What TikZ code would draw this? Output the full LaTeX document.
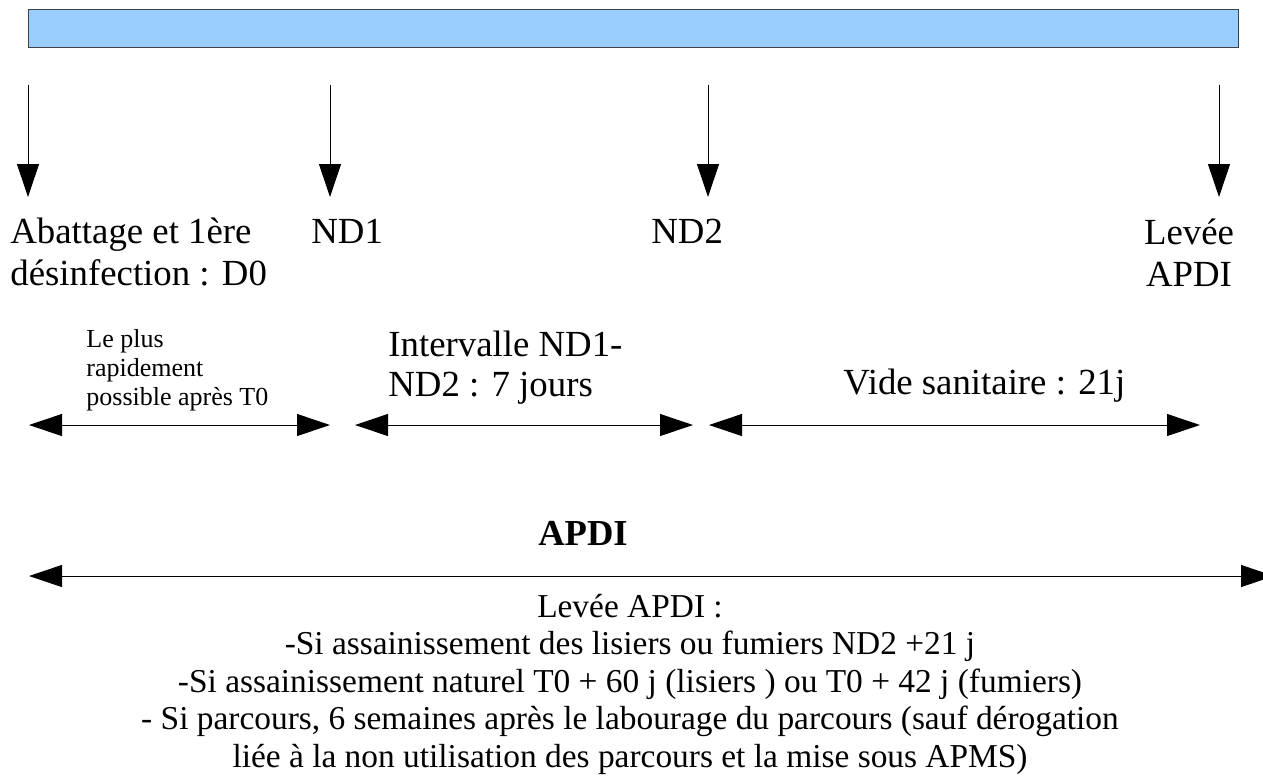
\documentclass[tikz,border=0pt]{standalone}
\usepackage{fontspec}
\setmainfont{Liberation Serif}
\usetikzlibrary{arrows.meta}

\definecolor{barblue}{HTML}{99CCFF}

\begin{document}
\begin{tikzpicture}[x=0.5pt,y=-0.5pt]

\tikzstyle{tip}=[-{Triangle[length=16.5pt,width=11pt]}, line width=0.5pt]
\tikzstyle{both}=[{Triangle[length=16.5pt,width=11pt]}-{Triangle[length=16.5pt,width=11pt]}, line width=0.5pt]
\tikzstyle{big}=[inner sep=0pt, font=\fontsize{18.4}{21}\selectfont]
\tikzstyle{small}=[inner sep=0pt, font=\fontsize{13}{14.5}\selectfont]

\useasboundingbox (0,0) rectangle (1263,783);

% top bar
\node (bar) [draw=black!75, fill=barblue, line width=0.5pt, inner sep=0pt,
  minimum width=605pt, minimum height=19pt, anchor=north west] at (28,9) {};

% the four dates
\foreach \x/\n in {28/d0,330/nd1,708/nd2,1219/lev} {
    \coordinate (\n top) at (\x,85);
    \coordinate (\n tip) at (\x,197);
    \draw[tip] (\n top) -- (\n tip);
}

% (base of a multi-line node = its last line)
\node (d0) [big, anchor=base west, align=left] at (10,285) {Abattage et 1ère\\désinfection : D0};
\node (nd1) [big, anchor=base west] at (311,243) {ND1};
\node (nd2) [big, anchor=base west] at (651,243) {ND2};
\node (lev) [big, anchor=base, align=center] at (1189,286) {Levée\\APDI};

% intervals
\coordinate (i1 l) at (29,425);
\coordinate (i1 r) at (330,425);
\coordinate (i2 l) at (355,425);
\coordinate (i2 r) at (693,425);
\coordinate (i3 l) at (709,425);
\coordinate (i3 r) at (1200,425);
\draw[both] (i1 l) -- (i1 r);
\draw[both] (i2 l) -- (i2 r);
\draw[both] (i3 l) -- (i3 r);

\node (rapide) [small, anchor=base west, align=left] at (86,405) {Le plus\\rapidement\\possible après T0};
\node (interv) [big, anchor=base west, align=left, font=\fontsize{18.4}{20}\selectfont] at (388,396) {Intervalle ND1-\\ND2 : 7 jours};
\node (vide) [big, anchor=base west] at (843,394) {Vide sanitaire : 21j};

% APDI
\node (apdi) [inner sep=0pt, anchor=base, font=\fontsize{18.3}{21}\selectfont\bfseries] at (583,545) {APDI};
\coordinate (apdi l) at (29,576);
\coordinate (apdi r) at (1274,576);
\draw[both] (apdi l) -- (apdi r);

\node (levee) [inner sep=0pt, anchor=base, align=center, font=\fontsize{16.7}{18.75}\selectfont] at (630,767)
  {Levée APDI :\\
   -Si assainissement des lisiers ou fumiers ND2 +21 j\\
   -Si assainissement naturel T0 + 60 j (lisiers ) ou T0 + 42 j (fumiers)\\
   - Si parcours, 6 semaines après le labourage du parcours (sauf dérogation\\
   liée à la non utilisation des parcours et la mise sous APMS)};

\end{tikzpicture}
\end{document}
